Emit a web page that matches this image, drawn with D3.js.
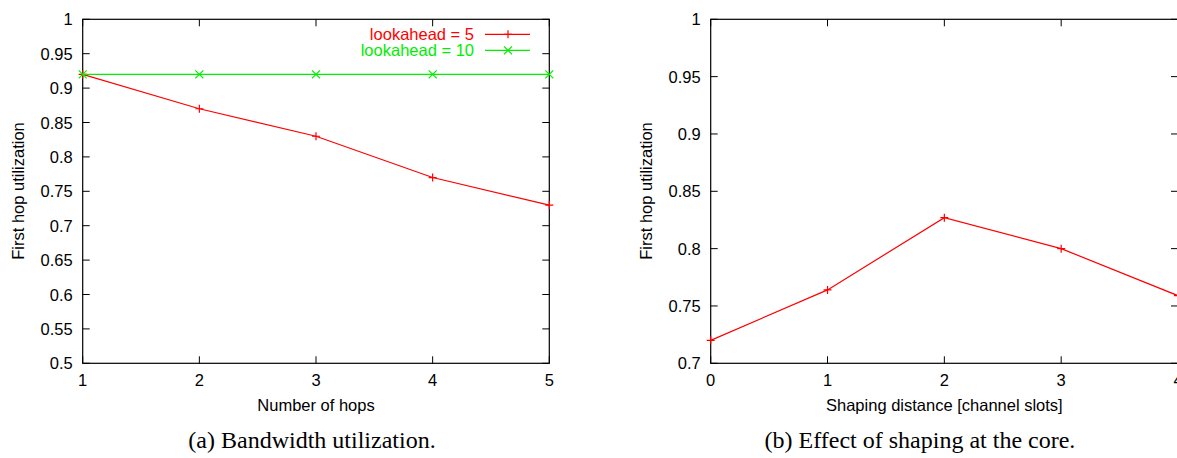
<!DOCTYPE html>
<html>
<head>
<meta charset="UTF-8">
<title>First hop utilization</title>
<script src="https://d3js.org/d3.v7.min.js"></script>
<style>
  body { margin: 0; background: #fff; }
  svg text { font-family: "Liberation Sans", Arial, sans-serif; }
  svg text.caption { font-family: "Liberation Serif", "Times New Roman", serif; }
</style>
</head>
<body>
<div id="chart"></div>
<script>
// panel (a): utilization vs number of hops
var hops = [1, 2, 3, 4, 5];
var lookahead5 = [0.92, 0.87, 0.83, 0.77, 0.73];
var lookahead10 = [0.92, 0.92, 0.92, 0.92, 0.92];
var yTicksA = [0.5, 0.55, 0.6, 0.65, 0.7, 0.75, 0.8, 0.85, 0.9, 0.95, 1];

// panel (b): utilization vs shaping distance
var distances = [0, 1, 2, 3, 4];
var shaping = [0.72, 0.764, 0.827, 0.80, 0.759];
var yTicksB = [0.7, 0.75, 0.8, 0.85, 0.9, 0.95, 1];

var W = 1177, H = 458;
var FS = 16.5;
var svg = d3.select("#chart").append("svg")
    .attr("width", W)
    .attr("height", H);

// draws one gnuplot-style panel
function panel(opts) {
    var x = d3.scaleLinear().domain(opts.xDomain).range([opts.left, opts.right]);
    var y = d3.scaleLinear().domain(opts.yDomain).range([363.3, 19.3]);
    var g = svg.append("g");
    var tk = 7;

    // frame
    g.append("rect")
        .attr("x", x.range()[0]).attr("y", y.range()[1])
        .attr("width", x.range()[1] - x.range()[0])
        .attr("height", y.range()[0] - y.range()[1])
        .attr("fill", "none").attr("stroke", "#000").attr("stroke-width", 1.2);

    // y ticks, mirrored on the right side
    opts.yTicks.forEach(function(v) {
        g.append("line").attr("x1", x.range()[0]).attr("x2", x.range()[0] + tk)
            .attr("y1", y(v)).attr("y2", y(v)).attr("stroke", "#000");
        g.append("line").attr("x1", x.range()[1]).attr("x2", x.range()[1] - tk)
            .attr("y1", y(v)).attr("y2", y(v)).attr("stroke", "#000");
        g.append("text").attr("x", x.range()[0] - 10).attr("y", y(v) + 6)
            .attr("text-anchor", "end").attr("font-size", FS).text(v);
    });

    // x ticks, mirrored at the top
    opts.xTicks.forEach(function(v) {
        g.append("line").attr("x1", x(v)).attr("x2", x(v))
            .attr("y1", y.range()[0]).attr("y2", y.range()[0] - tk).attr("stroke", "#000");
        g.append("line").attr("x1", x(v)).attr("x2", x(v))
            .attr("y1", y.range()[1]).attr("y2", y.range()[1] + tk).attr("stroke", "#000");
        g.append("text").attr("x", x(v)).attr("y", 386)
            .attr("text-anchor", "middle").attr("font-size", FS).text(v);
    });

    // axis titles
    g.append("text")
        .attr("transform", "translate(" + (opts.left - 59) + ",191) rotate(-90)")
        .attr("text-anchor", "middle").attr("font-size", FS).text("First hop utilization");
    g.append("text").attr("x", (opts.left + opts.right) / 2).attr("y", 411)
        .attr("text-anchor", "middle").attr("font-size", FS).text(opts.xLabel);

    // caption
    g.append("text").attr("class", "caption").attr("x", opts.captionX).attr("y", 448)
        .attr("text-anchor", "middle")
        .attr("font-size", 24).text(opts.caption);

    var line = d3.line()
        .x(function(d) { return x(d[0]); })
        .y(function(d) { return y(d[1]); });

    opts.series.forEach(function(s) {
        var pts = opts.xVals.map(function(v, i) { return [v, s.values[i]]; });
        g.append("path").datum(pts).attr("d", line)
            .attr("fill", "none").attr("stroke", s.color).attr("stroke-width", 1.2);
        pts.forEach(function(p) {
            marker(g, x(p[0]), y(p[1]), s.marker, s.color);
        });
    });

    return { x: x, y: y, g: g };
}

function marker(g, cx, cy, type, color) {
    var r = 4;
    if (type === "plus") {
        g.append("path").attr("d", "M" + (cx - r) + "," + cy + "H" + (cx + r) + "M" + cx + "," + (cy - r) + "V" + (cy + r))
            .attr("stroke", color).attr("stroke-width", 1.2).attr("fill", "none");
    } else {
        g.append("path").attr("d", "M" + (cx - r) + "," + (cy - r) + "L" + (cx + r) + "," + (cy + r) +
                "M" + (cx - r) + "," + (cy + r) + "L" + (cx + r) + "," + (cy - r))
            .attr("stroke", color).attr("stroke-width", 1.2).attr("fill", "none");
    }
}

var seriesA = [
    { name: "lookahead = 5", values: lookahead5, color: "#ff0000", marker: "plus" },
    { name: "lookahead = 10", values: lookahead10, color: "#00ee00", marker: "cross" }
];

var pa = panel({
    left: 82.7, right: 549.3,
    xDomain: [1, 5], yDomain: [0.5, 1],
    xTicks: hops, yTicks: yTicksA, xVals: hops,
    xLabel: "Number of hops",
    caption: "(a) Bandwidth utilization.", captionX: 312,
    series: seriesA
});

// legend for panel (a)
seriesA.forEach(function(s, i) {
    var ly = 34.3 + i * 16;
    pa.g.append("text").attr("x", 474).attr("y", ly + 6)
        .attr("text-anchor", "end").attr("font-size", FS)
        .attr("fill", s.color).text(s.name);
    pa.g.append("line").attr("x1", 485).attr("x2", 530).attr("y1", ly).attr("y2", ly)
        .attr("stroke", s.color).attr("stroke-width", 1.2);
    marker(pa.g, 508, ly, s.marker, s.color);
});

panel({
    left: 710.7, right: 1178,
    xDomain: [0, 4], yDomain: [0.7, 1],
    xTicks: distances, yTicks: yTicksB, xVals: distances,
    xLabel: "Shaping distance [channel slots]",
    caption: "(b) Effect of shaping at the core.", captionX: 920,
    series: [{ name: "shaping", values: shaping, color: "#ff0000", marker: "plus" }]
});
</script>
</body>
</html>
